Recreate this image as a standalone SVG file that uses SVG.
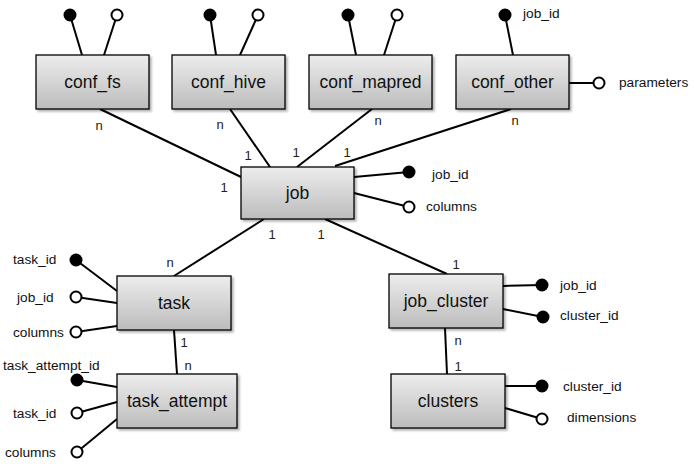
<svg xmlns="http://www.w3.org/2000/svg" width="694" height="464" viewBox="0 0 694 464">
<defs>
<linearGradient id="g" x1="0" y1="0" x2="0" y2="1">
<stop offset="0" stop-color="#ededed"/>
<stop offset="1" stop-color="#bcbcbc"/>
</linearGradient>
<filter id="sh" x="-10%" y="-10%" width="130%" height="140%">
<feDropShadow dx="2" dy="2" stdDeviation="1.2" flood-color="#000" flood-opacity="0.3"/>
</filter>
</defs>
<style>
.box{fill:url(#g);stroke:#000;stroke-width:1.3;filter:url(#sh)}
.bt{font-family:"Liberation Sans",Arial,sans-serif;font-size:17.5px;fill:#111;text-anchor:middle}
.lb{font-family:"Liberation Sans",Arial,sans-serif;font-size:13.7px;fill:#111}
.cd{font-family:"Liberation Sans",Arial,sans-serif;font-size:13px;fill:#2a1a10;text-anchor:middle}
.ln{stroke:#000;stroke-width:2;fill:none}
.pk{fill:#000;stroke:#000;stroke-width:2}
.at{fill:#fff;stroke:#000;stroke-width:2}
</style>
<g id="connectors">
<line class="ln" x1="100" y1="109" x2="241" y2="177"/>
<line class="ln" x1="230" y1="109" x2="270" y2="167"/>
<line class="ln" x1="372" y1="109" x2="297" y2="167"/>
<line class="ln" x1="511" y1="109" x2="335" y2="166"/>
<line class="ln" x1="264" y1="219" x2="174" y2="276"/>
<line class="ln" x1="325" y1="219" x2="447" y2="274"/>
<line class="ln" x1="174" y1="330" x2="177" y2="374"/>
<line class="ln" x1="445" y1="328" x2="447" y2="374"/>
<text class="cd" x="99" y="130">n</text>
<text class="cd" x="220" y="129">n</text>
<text class="cd" x="378" y="125">n</text>
<text class="cd" x="515" y="125">n</text>
<text class="cd" x="224" y="192">1</text>
<text class="cd" x="248" y="160">1</text>
<text class="cd" x="296" y="157">1</text>
<text class="cd" x="347" y="157">1</text>
<text class="cd" x="272" y="239">1</text>
<text class="cd" x="321" y="239">1</text>
<text class="cd" x="170" y="267">n</text>
<text class="cd" x="456" y="269">1</text>
<text class="cd" x="184" y="347">1</text>
<text class="cd" x="188" y="370">n</text>
<text class="cd" x="458" y="345">n</text>
<text class="cd" x="458" y="371">1</text>
</g>
<g id="conf_fs">
<line class="ln" x1="82" y1="55" x2="70" y2="15"/>
<line class="ln" x1="104" y1="55" x2="117" y2="15"/>
<circle class="pk" cx="70" cy="15" r="5.5"/>
<circle class="at" cx="117" cy="15" r="5.5"/>
<rect class="box" x="36" y="55" width="113" height="54"/>
<text class="bt" x="92.5" y="88">conf_fs</text>
</g>
<g id="conf_hive">
<line class="ln" x1="216" y1="55" x2="210" y2="15"/>
<line class="ln" x1="240" y1="55" x2="258" y2="15"/>
<circle class="pk" cx="210" cy="15" r="5.5"/>
<circle class="at" cx="258" cy="15" r="5.5"/>
<rect class="box" x="172" y="55" width="113" height="54"/>
<text class="bt" x="228.5" y="88">conf_hive</text>
</g>
<g id="conf_mapred">
<line class="ln" x1="356" y1="55" x2="348" y2="15"/>
<line class="ln" x1="384" y1="55" x2="397" y2="15"/>
<circle class="pk" cx="348" cy="15" r="5.5"/>
<circle class="at" cx="397" cy="15" r="5.5"/>
<rect class="box" x="309" y="55" width="123" height="54"/>
<text class="bt" x="370.5" y="88">conf_mapred</text>
</g>
<g id="conf_other">
<line class="ln" x1="513" y1="55" x2="505" y2="15"/>
<line class="ln" x1="569" y1="83" x2="599" y2="83"/>
<circle class="pk" cx="505" cy="15" r="5.5"/>
<circle class="at" cx="599" cy="83" r="5.5"/>
<rect class="box" x="456" y="55" width="113" height="54"/>
<text class="bt" x="512.5" y="88">conf_other</text>
<text class="lb" x="523" y="18">job_id</text>
<text class="lb" x="619" y="87">parameters</text>
</g>
<g id="job">
<line class="ln" x1="354" y1="177" x2="409" y2="172"/>
<line class="ln" x1="354" y1="193" x2="409" y2="207"/>
<circle class="pk" cx="409" cy="172" r="5.5"/>
<circle class="at" cx="409" cy="207" r="5.5"/>
<rect class="box" x="241" y="167" width="113" height="52"/>
<text class="bt" x="297.5" y="199">job</text>
<text class="lb" x="432" y="179">job_id</text>
<text class="lb" x="426" y="211">columns</text>
</g>
<g id="task">
<line class="ln" x1="117" y1="291" x2="76" y2="260"/>
<line class="ln" x1="117" y1="303" x2="76" y2="297"/>
<line class="ln" x1="117" y1="326" x2="76" y2="332"/>
<circle class="pk" cx="76" cy="260" r="5.5"/>
<circle class="at" cx="76" cy="297" r="5.5"/>
<circle class="at" cx="76" cy="332" r="5.5"/>
<rect class="box" x="117" y="276" width="114" height="54"/>
<text class="bt" x="174" y="309">task</text>
<text class="lb" x="13" y="264">task_id</text>
<text class="lb" x="17" y="302">job_id</text>
<text class="lb" x="13" y="337">columns</text>
</g>
<g id="task_attempt">
<line class="ln" x1="117" y1="387" x2="77" y2="380"/>
<line class="ln" x1="117" y1="402" x2="77" y2="413"/>
<line class="ln" x1="117" y1="419" x2="77" y2="452"/>
<circle class="pk" cx="77" cy="380" r="5.5"/>
<circle class="at" cx="77" cy="413" r="5.5"/>
<circle class="at" cx="77" cy="452" r="5.5"/>
<rect class="box" x="117" y="374" width="120" height="54"/>
<text class="bt" x="177" y="407">task_attempt</text>
<text class="lb" x="3" y="370">task_attempt_id</text>
<text class="lb" x="13" y="418">task_id</text>
<text class="lb" x="5" y="457">columns</text>
</g>
<g id="job_cluster">
<line class="ln" x1="503" y1="286" x2="542" y2="285"/>
<line class="ln" x1="503" y1="309" x2="543" y2="317"/>
<circle class="pk" cx="542" cy="285" r="5.5"/>
<circle class="pk" cx="543" cy="317" r="5.5"/>
<rect class="box" x="389" y="274" width="114" height="54"/>
<text class="bt" x="446" y="307">job_cluster</text>
<text class="lb" x="560" y="290">job_id</text>
<text class="lb" x="560" y="320">cluster_id</text>
</g>
<g id="clusters">
<line class="ln" x1="505" y1="386" x2="542" y2="386"/>
<line class="ln" x1="505" y1="408" x2="542" y2="419"/>
<circle class="pk" cx="542" cy="386" r="5.5"/>
<circle class="at" cx="542" cy="419" r="5.5"/>
<rect class="box" x="391" y="374" width="114" height="54"/>
<text class="bt" x="448" y="407">clusters</text>
<text class="lb" x="563" y="391">cluster_id</text>
<text class="lb" x="567" y="422">dimensions</text>
</g>
</svg>
